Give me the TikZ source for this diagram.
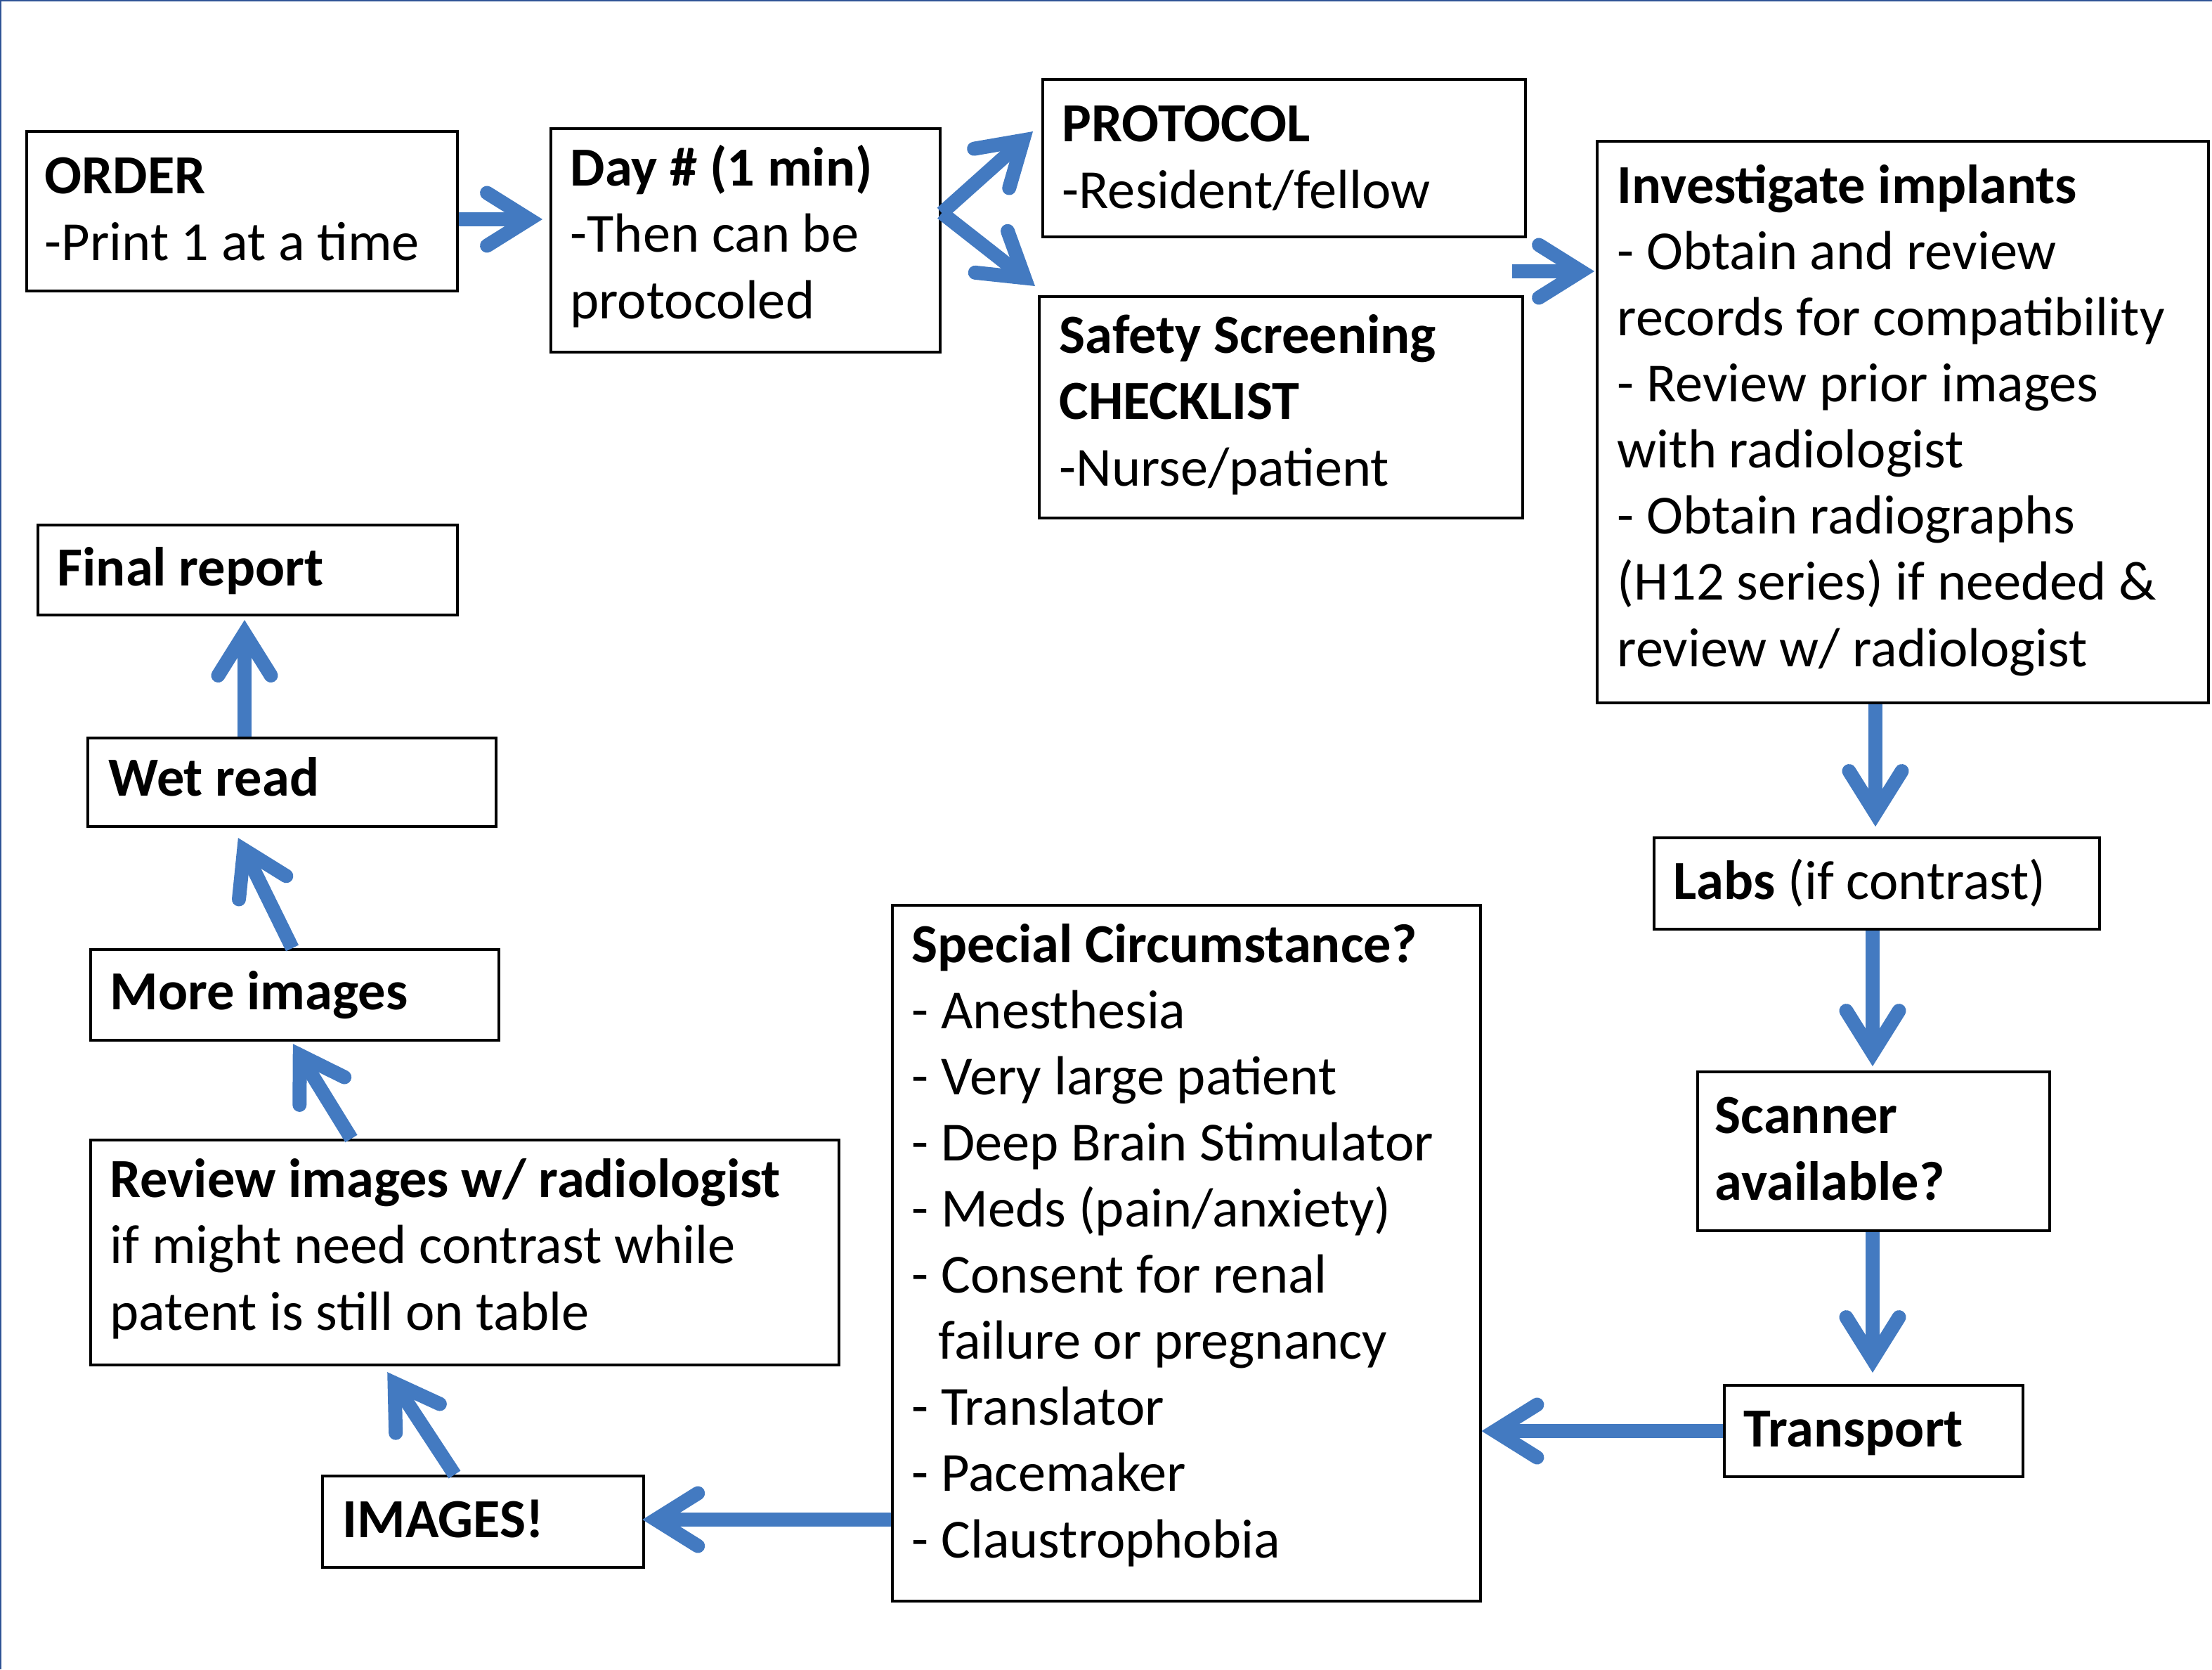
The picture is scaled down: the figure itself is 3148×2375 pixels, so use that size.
\documentclass[tikz,border=0pt]{standalone}
\usepackage{fontspec}
\setmainfont{Carlito}
\usetikzlibrary{arrows.meta,calc}
\definecolor{arrblue}{RGB}{67,122,193}
\definecolor{framecol}{RGB}{47,84,150}
\begin{document}
\begin{tikzpicture}[x=0.01cm,y=-0.01cm,
  box/.style={draw=black, line width=0.04cm, anchor=north west, inner sep=0pt},
  txt/.style={inner sep=0pt, anchor=base west, align=left, font=\fontsize{22.3pt}{26.75pt}\selectfont},
  arr/.style={draw=arrblue, line width=0.2cm, -{Straight Barb[length=0.6cm,width=0.75cm,line cap=round,line join=miter]}}]
\useasboundingbox (0,0) rectangle (3148,2375);
\fill[white] (0,0) rectangle (3148,2375);
\draw[framecol, line width=0.02cm] (0,1) -- (3148,1);
\draw[framecol, line width=0.02cm] (1,0) -- (1,2375);

% boxes
\node[box, minimum width=6.13cm, minimum height=2.27cm] (order) at (36,185) {};
\node[box, minimum width=5.54cm, minimum height=3.18cm] (day) at (782,181) {};
\node[box, minimum width=6.87cm, minimum height=2.24cm] (proto) at (1482,111) {};
\node[box, minimum width=6.88cm, minimum height=3.15cm] (safety) at (1477,420) {};
\node[box, minimum width=8.69cm, minimum height=7.99cm] (inv) at (2271,199) {};
\node[box, minimum width=6.34cm, minimum height=1.30cm] (labs) at (2352,1190) {};
\node[box, minimum width=5.01cm, minimum height=2.26cm] (scan) at (2414,1523) {};
\node[box, minimum width=4.25cm, minimum height=1.30cm] (trans) at (2452,1969) {};
\node[box, minimum width=8.36cm, minimum height=9.89cm] (spec) at (1268,1286) {};
\node[box, minimum width=4.57cm, minimum height=1.30cm] (images) at (457,2098) {};
\node[box, minimum width=10.64cm, minimum height=3.20cm] (review) at (127,1620) {};
\node[box, minimum width=5.81cm, minimum height=1.29cm] (more) at (127,1349) {};
\node[box, minimum width=5.81cm, minimum height=1.26cm] (wet) at (123,1048) {};
\node[box, minimum width=5.97cm, minimum height=1.28cm] (final) at (52,745) {};

% texts (anchor = baseline of the last line)
\node[txt] (order-t) at (63,370) {\textbf{ORDER}\\-Print 1 at a time};
\node[txt] (day-t) at (811,453) {\textbf{Day \# (1 min)}\\-Then can be\\protocoled};
\node[txt] (proto-t) at (1511,296) {\textbf{PROTOCOL}\\-Resident/fellow};
\node[txt] (safety-t) at (1507,691) {\textbf{Safety Screening}\\\textbf{CHECKLIST}\\-Nurse/patient};
\node[txt] (inv-t) at (2301,948) {\textbf{Investigate implants}\\- Obtain and review\\records for compatibility\\- Review prior images\\with radiologist\\- Obtain radiographs\\(H12 series) if needed \&\\review w/ radiologist};
\node[txt] (labs-t) at (2381,1279) {\textbf{Labs} (if contrast)};
\node[txt] (scan-t) at (2440,1707) {\textbf{Scanner}\\\textbf{available?}};
\node[txt] (trans-t) at (2481,2058) {\textbf{Transport}};
\node[txt] (spec-t) at (1297,2216) {\textbf{Special Circumstance?}\\- Anesthesia\\- Very large patient\\- Deep Brain Stimulator\\- Meds (pain/anxiety)\\- Consent for renal\\\hspace*{0.38cm}failure or pregnancy\\- Translator\\- Pacemaker\\- Claustrophobia};
\node[txt] (images-t) at (487,2187) {\textbf{IMAGES!}};
\node[txt] (review-t) at (156,1892) {\textbf{Review images w/ radiologist}\\if might need contrast while\\patent is still on table};
\node[txt] (more-t) at (156,1436) {\textbf{More images}};
\node[txt] (wet-t) at (154,1132) {\textbf{Wet read}};
\node[txt] (final-t) at (81,833) {\textbf{Final report}};

% connectors
\draw[arr, shorten >=0.1cm] (order.east |- 0,312) -- (day.west |- 0,312);
\coordinate (fork) at (day.east |- 0,303);
\draw[arr] (fork) -- ($(proto.north west)+(-12,76)$);
\draw[arr] (fork) -- ($(safety.north west)+(-4,-13)$);
\draw[arr, shorten >=0.02cm] ($(safety.north east)+(-17,-34)$) -- (inv.west |- 0,386);
\draw[arr, shorten >=0.14cm] (inv.south -| 2669,0) -- (labs.north -| 2669,0);
\draw[arr, shorten >=0.06cm] (labs.south -| 2665,0) -- (scan.north -| 2665,0);
\draw[arr, shorten >=0.16cm] (scan.south -| 2665,0) -- (trans.north -| 2665,0);
\draw[arr] (trans.west |- 0,2036) -- (spec.east |- 0,2036);
\draw[arr, shorten >=-0.04cm] (spec.west |- 0,2162) -- (images.east |- 0,2162);
\draw[arr, shorten >=0.095cm] (images.north -| 647,0) -- (review.south -| 546,0);
\draw[arr, shorten >=0.035cm] (review.north -| 500,0) -- (more.south -| 415,0);
\draw[arr, shorten >=0.156cm] (more.north -| 416,0) -- (wet.south -| 332,0);
\draw[arr, shorten >=0.05cm] (wet.north -| 348,0) -- (final.south -| 348,0);
\end{tikzpicture}
\end{document}
